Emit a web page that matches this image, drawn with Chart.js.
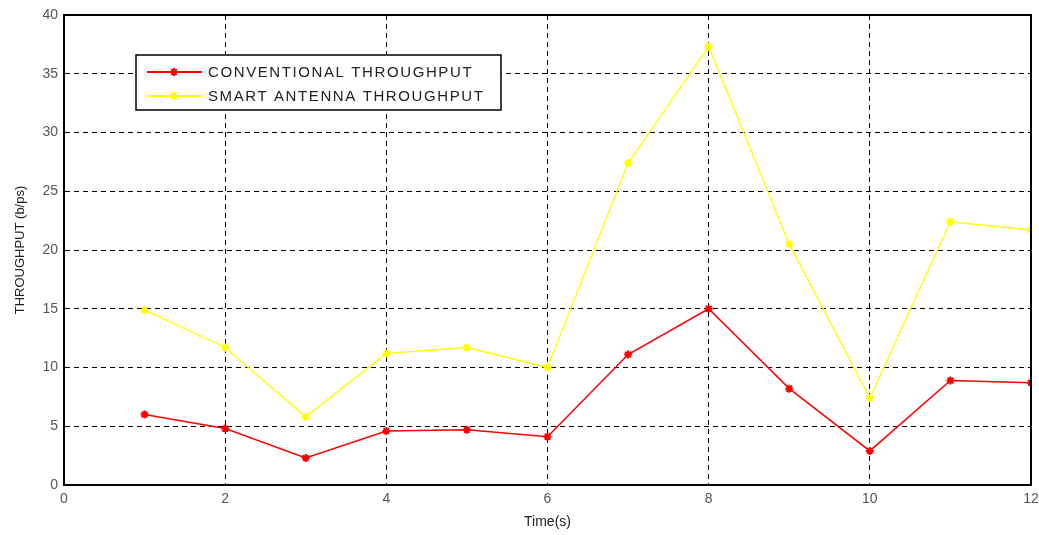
<!DOCTYPE html>
<html><head><meta charset="utf-8">
<script src="https://cdn.jsdelivr.net/npm/chart.js@4"></script>
<style>html,body{margin:0;padding:0;background:#fff}#w{width:1039px;height:535px}</style>
</head><body><div id="w"><canvas id="c" width="1039" height="535"></canvas></div>
<script>
const times = [1,2,3,4,5,6,7,8,9,10,11,12];
const conventional = [6.0,4.8,2.3,4.6,4.7,4.1,11.1,15.0,8.2,2.9,8.9,8.7];
const smartAntenna = [14.9,11.7,5.8,11.2,11.7,10.0,27.4,37.3,20.5,7.4,22.4,21.7];
const xTicks = [0,2,4,6,8,10,12];
const yTicks = [0,5,10,15,20,25,30,35,40];
const seriesNames = ['CONVENTIONAL THROUGHPUT','SMART ANTENNA THROUGHPUT'];

const FONT = '"Liberation Sans", Arial, sans-serif';
const toXY = vals => times.map((t,i)=>({x:t,y:vals[i]}));

const frameLegend = {
  id:'frameLegend',
  afterDraw(chart){
    const {ctx, chartArea:a} = chart;
    ctx.save();
    ctx.strokeStyle='#000'; ctx.lineWidth=2; ctx.setLineDash([]);
    ctx.strokeRect(a.left, a.top, a.right-a.left, a.bottom-a.top);
    const lx=136, ly=55, lw=365, lh=55;
    ctx.fillStyle='#fff'; ctx.fillRect(lx,ly,lw,lh);
    ctx.lineWidth=1.5; ctx.strokeRect(lx,ly,lw,lh);
    ctx.font='15px '+FONT; ctx.textBaseline='middle'; ctx.textAlign='left';
    chart.data.datasets.forEach((ds,i)=>{
      const y = ly+17+i*24;
      ctx.strokeStyle=ds.borderColor; ctx.lineWidth=2;
      ctx.beginPath(); ctx.moveTo(147,y); ctx.lineTo(202,y); ctx.stroke();
      ctx.fillStyle=ds.borderColor;
      Chart.helpers.drawPoint(ctx,{pointStyle:'star',radius:4,borderWidth:2},174,y);
      ctx.fillStyle='#222';
      ctx.letterSpacing='1.6px';
      ctx.fillText(ds.label,208,y+1);
      ctx.letterSpacing='0px';
    });
    ctx.restore();
  }
};

new Chart(document.getElementById('c'),{
  type:'line',
  data:{datasets:[
    {label:seriesNames[0],data:toXY(conventional),borderColor:'#ff0000',backgroundColor:'#ff0000',borderWidth:1.5,pointStyle:'star',pointRadius:4,pointBorderWidth:2,tension:0},
    {label:seriesNames[1],data:toXY(smartAntenna),borderColor:'#ffff00',backgroundColor:'#ffff00',borderWidth:1.3,pointStyle:'star',pointRadius:4,pointBorderWidth:2,tension:0}
  ]},
  options:{
    responsive:false,animation:false,
    layout:{padding:{top:15,right:8,left:0,bottom:0}},
    plugins:{legend:{display:false},tooltip:{enabled:false}},
    scales:{
      x:{type:'linear',min:0,max:12,
        afterBuildTicks(s){s.ticks=xTicks.map(v=>({value:v}));},
        afterFit(s){s.height=50;s.paddingLeft=0;s.paddingRight=0;},
        grid:{color:'#000',lineWidth:1,drawTicks:false,tickLength:0},
        border:{display:true,color:'#000',width:2,dash:[5,4]},
        ticks:{color:'#555',font:{family:FONT,size:14},padding:6,maxRotation:0},
        title:{display:true,text:'Time(s)',color:'#222',font:{family:FONT,size:14},padding:{top:0,bottom:4}}
      },
      y:{min:0,max:40,
        afterBuildTicks(s){s.ticks=yTicks.map(v=>({value:v}));},
        afterFit(s){s.width=64;s.paddingTop=0;s.paddingBottom=0;},
        grid:{color:'#000',lineWidth:1,drawTicks:false,tickLength:0},
        border:{display:true,color:'#000',width:2,dash:[5,4]},
        ticks:{color:'#555',font:{family:FONT,size:14},padding:6},
        title:{display:true,text:'THROUGHPUT (b/ps)',color:'#222',font:{family:FONT,size:13},padding:{top:13,bottom:0}}
      }
    }
  },
  plugins:[frameLegend]
});
</script></body></html>
